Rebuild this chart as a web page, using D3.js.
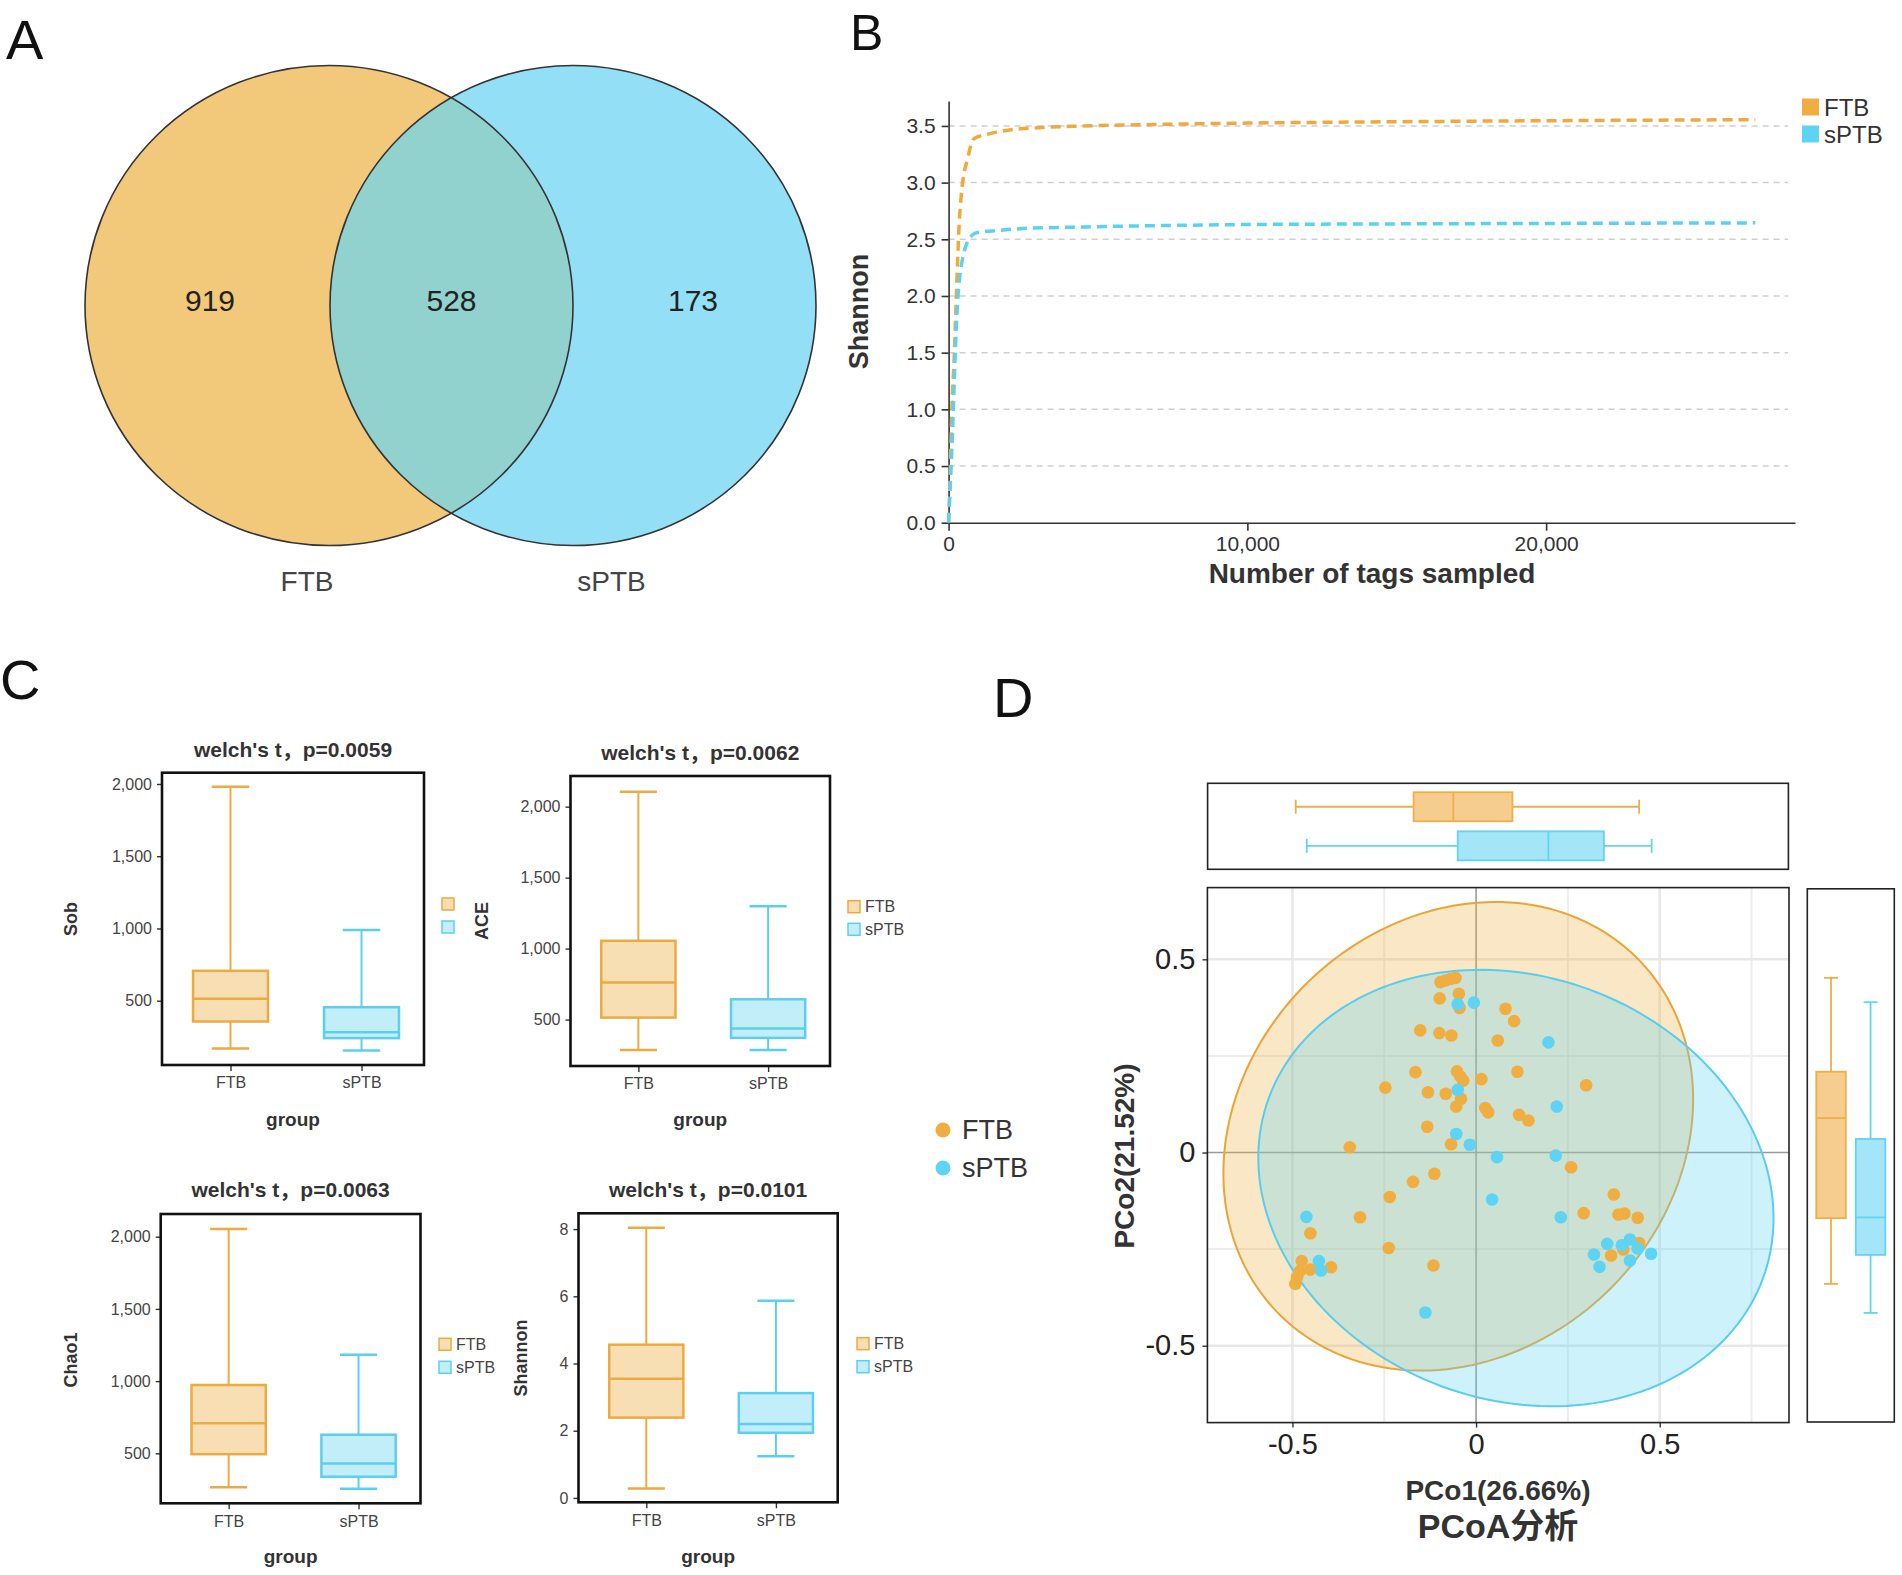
<!DOCTYPE html>
<html><head><meta charset="utf-8">
<script src="https://cdn.jsdelivr.net/npm/d3@7"></script>
<style>
body{margin:0;background:#fff}
svg{display:block}
text{font-family:"Liberation Sans",Arial,"Noto Sans CJK SC",sans-serif}
</style>
</head><body>
<svg id="c" width="1902" height="1575"></svg>
<script>
// ---------------- DATA ----------------
const groups = ["FTB", "sPTB"];
// Venn (A)
const vennRegions = ["FTB only", "shared", "sPTB only"];
const vennCounts = [919, 528, 173];
// Rarefaction (B)
const rareTagsFTB = [0, 45, 111, 190, 245, 301, 357, 424, 490, 636, 747, 859, 1360, 1918, 3033, 4148, 6378, 10000, 15000, 20000, 27000];
const rareValFTB  = [0, 0.35, 1.01, 1.48, 1.89, 2.30, 2.65, 2.89, 3.04, 3.21, 3.33, 3.39, 3.43, 3.46, 3.485, 3.497, 3.51, 3.525, 3.537, 3.546, 3.555];
const rareTagsSPTB = [0, 22, 78, 134, 190, 245, 301, 379, 468, 636, 803, 1026, 1472, 2475, 4148, 6378, 10000, 15000, 20000, 27000];
const rareValSPTB  = [0, 0.13, 0.45, 0.83, 1.24, 1.65, 1.95, 2.18, 2.33, 2.48, 2.54, 2.565, 2.574, 2.595, 2.607, 2.618, 2.630, 2.636, 2.640, 2.645];
const rareYTicks = [0, 0.5, 1, 1.5, 2, 2.5, 3, 3.5];
const rareXTicks = [0, 10000, 20000];
// Box plots (C): [min, q1, median, q3, max]
const sobFTB  = [170, 356, 513, 707, 1980];
const sobSPTB = [155, 241, 282, 455, 990];
const aceFTB  = [286, 514, 761, 1055, 2105];
const aceSPTB = [286, 371, 437, 643, 1298];
const chaoFTB  = [265, 494, 708, 973, 2053];
const chaoSPTB = [255, 338, 429, 629, 1183];
const shanFTB  = [0.28, 2.39, 3.55, 4.56, 8.04];
const shanSPTB = [1.24, 1.94, 2.20, 3.12, 5.87];
const boxTitles = ["welch's t，p=0.0059", "welch's t，p=0.0062", "welch's t，p=0.0063", "welch's t，p=0.0101"];
const boxMetrics = ["Sob", "ACE", "Chao1", "Shannon"];
const countTicks = [500, 1000, 1500, 2000];
const shanTicks = [0, 2, 4, 6, 8];
// PCoA (D)
const pcoaFTBx = [-0.097,-0.0835,-0.070,-0.056,-0.099,-0.047,-0.045,0.080,-0.152,-0.100,-0.067,0.059,-0.165,-0.052,-0.043,-0.035,0.0145,-0.247,-0.131,-0.0825,-0.041,-0.054,0.025,0.033,-0.133,-0.068,-0.344,
  0.1035,0.1125,0.2996,0.117,0.1425,
  -0.1135,-0.1716,-0.235,-0.316,-0.451,-0.238,-0.4747,-0.480,-0.4875,-0.492,-0.451,-0.395,-0.116,
  0.2587,0.375,0.293,0.3876,0.404,0.440,0.401,0.444,0.3677];
const pcoaFTBy = [0.441,0.445,0.449,0.452,0.399,0.411,0.374,0.372,0.316,0.309,0.303,0.290,0.208,0.210,0.197,0.186,0.190,0.168,0.156,0.152,0.139,0.119,0.115,0.104,0.0665,0.0215,0.0137,
  0.340,0.209,0.174,0.0975,0.083,
  -0.055,-0.076,-0.115,-0.1675,-0.209,-0.247,-0.281,-0.307,-0.323,-0.340,-0.303,-0.297,-0.2925,
  -0.038,-0.1087,-0.157,-0.1605,-0.158,-0.169,-0.251,-0.234,-0.2666];
const pcoaSPTBx = [-0.050,-0.006,-0.050,-0.054,-0.017,0.057,0.197,0.2197,0.217,0.0436,-0.462,-0.428,-0.422,-0.138,0.2306,0.419,0.357,0.397,0.440,0.321,0.4766,0.419,0.336];
const pcoaSPTBy = [0.384,0.388,0.162,0.048,0.020,-0.012,0.285,0.119,-0.008,-0.1217,-0.1665,-0.281,-0.3055,-0.414,-0.1675,-0.225,-0.2365,-0.240,-0.2485,-0.264,-0.262,-0.2796,-0.296];
// confidence ellipses: [cx, cy, semi-major, semi-minor, angle(deg)]
const ellipseFTB  = [-0.0485, 0.042, 0.673, 0.569, 35.7];
const ellipseSPTB = [0.1085, -0.092, 0.7127, 0.5505, -16.2];
// marginal box plots [min,q1,median,q3,max]
const pc1FTB  = [-0.491, -0.170, -0.062, 0.099, 0.444];
const pc1SPTB = [-0.461, -0.050, 0.197, 0.348, 0.478];
const pc2FTB  = [-0.340, -0.170, 0.089, 0.209, 0.452];
const pc2SPTB = [-0.415, -0.265, -0.168, 0.035, 0.389];
const pcoaTicks = [-0.5, 0, 0.5];
const pcoaMinorX = [-0.25, 0.25, 0.75];
const pcoaMinorY = [-0.25, 0.25];

// ---------------- STYLE ----------------
const ORANGE = "#F0AE40", BLUE = "#5ED3F4";
const svg = d3.select("#c");

// panel letters
[["A",6,59,56],["B",850,50,50],["C",0,699,56],["D",993,717,56]].forEach(([t,x,y,fs])=>{
  svg.append("text").attr("x",x).attr("y",y).attr("font-size",fs).attr("fill","#111").text(t);
});

// ---------------- A: Venn ----------------
(function(){
  const g = svg.append("g");
  const L = {cx:329, cy:305.5, rx:244, ry:240};
  const R = {cx:573, cy:305.5, rx:243, ry:240};
  const defs = svg.append("defs");
  defs.append("clipPath").attr("id","clipL").append("ellipse")
    .attr("cx",L.cx).attr("cy",L.cy).attr("rx",L.rx).attr("ry",L.ry);
  g.append("ellipse").attr("cx",L.cx).attr("cy",L.cy).attr("rx",L.rx).attr("ry",L.ry).attr("fill","#F2C87B");
  g.append("ellipse").attr("cx",R.cx).attr("cy",R.cy).attr("rx",R.rx).attr("ry",R.ry).attr("fill","#93E0F6");
  g.append("ellipse").attr("cx",R.cx).attr("cy",R.cy).attr("rx",R.rx).attr("ry",R.ry).attr("fill","#91D2CF").attr("clip-path","url(#clipL)");
  [L,R].forEach(c=>g.append("ellipse").attr("cx",c.cx).attr("cy",c.cy).attr("rx",c.rx).attr("ry",c.ry)
    .attr("fill","none").attr("stroke","#333").attr("stroke-width",1.6));
  const vx = d3.scalePoint().domain(vennRegions).range([210, 693]);
  g.selectAll("text.cnt").data(vennRegions).join("text")
    .attr("x",d=>vx(d)).attr("y",310.5).attr("text-anchor","middle")
    .attr("font-size",30).attr("fill","#222").text((d,i)=>vennCounts[i]);
  const lx = d3.scalePoint().domain(groups).range([307, 611.5]);
  g.selectAll("text.lab").data(groups).join("text")
    .attr("x",d=>lx(d)).attr("y",591).attr("text-anchor","middle")
    .attr("font-size",28).attr("fill","#444").text(d=>d);
})();

// ---------------- B: rarefaction ----------------
(function(){
  const g = svg.append("g");
  const x = d3.scaleLinear().domain([0, 28330]).range([948.6, 1795]);
  const y = d3.scaleLinear().domain([0, 3.72]).range([522.7, 101]);
  g.selectAll("line.grid").data(rareYTicks.filter(d=>d>0)).join("line")
    .attr("x1",x(0)).attr("x2",1788).attr("y1",d=>y(d)).attr("y2",d=>y(d))
    .attr("stroke","#cfcfcf").attr("stroke-width",1.5).attr("stroke-dasharray","6,5");
  const ya = g.append("g").attr("transform",`translate(${x(0)},0)`)
    .call(d3.axisLeft(y).tickValues(rareYTicks).tickFormat(d3.format(".1f")).tickSize(7).tickPadding(6).tickSizeOuter(0));
  const xa = g.append("g").attr("transform",`translate(0,${y(0)})`)
    .call(d3.axisBottom(x).tickValues(rareXTicks).tickFormat(d3.format(",")).tickSize(8).tickPadding(5).tickSizeOuter(0));
  [ya,xa].forEach(a=>{
    a.selectAll("path,line").attr("stroke","#333").attr("stroke-width",1.6);
    a.selectAll("text").attr("font-size",21).attr("fill","#333").attr("font-family","Liberation Sans, Arial, sans-serif");
  });
  const line = d3.line().x(d=>x(d[0])).y(d=>y(d[1])).curve(d3.curveMonotoneX);
  g.append("path").datum(rareTagsFTB.map((t,i)=>[t,rareValFTB[i]])).attr("d",line)
    .attr("fill","none").attr("stroke","#EFAA3A").attr("stroke-width",3.5).attr("stroke-dasharray","10,6");
  g.append("path").datum(rareTagsSPTB.map((t,i)=>[t,rareValSPTB[i]])).attr("d",line)
    .attr("fill","none").attr("stroke","#5CD2F2").attr("stroke-width",3.5).attr("stroke-dasharray","10,6");
  g.append("text").attr("transform","translate(859,311.5) rotate(-90)").attr("text-anchor","middle")
    .attr("dominant-baseline","central").attr("font-size",27).attr("font-weight","bold").attr("fill","#333").text("Shannon");
  g.append("text").attr("x",1372).attr("y",583).attr("text-anchor","middle")
    .attr("font-size",28).attr("font-weight","bold").attr("fill","#333").text("Number of tags sampled");
  const lc = [ORANGE, BLUE];
  groups.forEach((gname,i)=>{
    const cy = 107 + i*27;
    g.append("rect").attr("x",1802).attr("y",cy-8.5).attr("width",17).attr("height",17).attr("fill",lc[i]);
    g.append("text").attr("x",1824).attr("y",cy).attr("dominant-baseline","central")
      .attr("font-size",24).attr("fill","#333").text(gname);
  });
})();

// ---------------- C: box plots ----------------
const cCfg = [
  {frame:[162,772.7,424,1065], dom:[55,2078], ticks:countTicks, fmt:d3.format(","), data:[sobFTB,sobSPTB], titleY:757, yt:[71,919], leg:[442,[904,927],false], xlabY:1089, groupY:1126},
  {frame:[570.5,776,830,1066], dom:[173,2216], ticks:countTicks, fmt:d3.format(","), data:[aceFTB,aceSPTB], titleY:760, yt:[482,921], leg:[848,[906.7,929.3],true], xlabY:1089, groupY:1126},
  {frame:[160.7,1214,420.5,1503.3], dom:[154,2157], ticks:countTicks, fmt:d3.format(","), data:[chaoFTB,chaoSPTB], titleY:1197, yt:[71,1360], leg:[439,[1344.3,1367.3],true], xlabY:1527, groupY:1563},
  {frame:[578.5,1213.3,837.7,1502.3], dom:[-0.13,8.47], ticks:shanTicks, fmt:d3.format("d"), data:[shanFTB,shanSPTB], titleY:1197, yt:[521,1358], leg:[857,[1343.7,1366.7],true], xlabY:1527, groupY:1563}
];
const cStroke = ["#EDAA40", "#5CCFEE"], cFill = ["#F8DEB3", "#C2EEFA"];
cCfg.forEach((c,k)=>{
  const g = svg.append("g");
  const [x0,y0,x1,y1] = c.frame;
  const y = d3.scaleLinear().domain(c.dom).range([y1,y0]);
  const x = d3.scalePoint().domain(groups).range([x0+3,x1+3]).padding(0.5);
  const bw = (x1-x0)*0.286;
  const ya = g.append("g").attr("transform",`translate(${x0},0)`)
    .call(d3.axisLeft(y).tickValues(c.ticks).tickFormat(c.fmt).tickSize(5).tickPadding(5).tickSizeOuter(0));
  const xa = g.append("g").attr("transform",`translate(0,${y1})`)
    .call(d3.axisBottom(x).tickSize(6).tickPadding(6).tickSizeOuter(0));
  [ya,xa].forEach(a=>{
    a.select(".domain").remove();
    a.selectAll("line").attr("stroke","#333").attr("stroke-width",1.4);
    a.selectAll("text").attr("font-size",16).attr("fill","#444").attr("font-family","Liberation Sans, Arial, sans-serif");
  });
  c.data.forEach((s,i)=>{
    const cx = x(groups[i]);
    const col = cStroke[i];
    g.append("line").attr("x1",cx).attr("x2",cx).attr("y1",y(s[0])).attr("y2",y(s[1])).attr("stroke",col).attr("stroke-width",2);
    g.append("line").attr("x1",cx).attr("x2",cx).attr("y1",y(s[3])).attr("y2",y(s[4])).attr("stroke",col).attr("stroke-width",2);
    [s[0],s[4]].forEach(v=>g.append("line").attr("x1",cx-bw/4).attr("x2",cx+bw/4).attr("y1",y(v)).attr("y2",y(v)).attr("stroke",col).attr("stroke-width",2.5));
    g.append("rect").attr("x",cx-bw/2).attr("width",bw).attr("y",y(s[3])).attr("height",y(s[1])-y(s[3]))
      .attr("fill",cFill[i]).attr("stroke",col).attr("stroke-width",2.5);
    g.append("line").attr("x1",cx-bw/2).attr("x2",cx+bw/2).attr("y1",y(s[2])).attr("y2",y(s[2])).attr("stroke",col).attr("stroke-width",2.5);
  });
  g.append("rect").attr("x",x0).attr("y",y0).attr("width",x1-x0).attr("height",y1-y0)
    .attr("fill","none").attr("stroke","#111").attr("stroke-width",2.6);
  g.append("text").attr("x",(x0+x1)/2).attr("y",c.titleY).attr("text-anchor","middle")
    .attr("font-size",21).attr("font-weight","bold").attr("fill","#333").text(boxTitles[k]);
  g.append("text").attr("transform",`translate(${c.yt[0]},${c.yt[1]}) rotate(-90)`).attr("text-anchor","middle")
    .attr("dominant-baseline","central").attr("font-size",18).attr("font-weight","bold").attr("fill","#333").text(boxMetrics[k]);
  g.append("text").attr("x",(x0+x1)/2).attr("y",c.groupY).attr("text-anchor","middle")
    .attr("font-size",19).attr("font-weight","bold").attr("fill","#333").text("group");
  const [lx, lys, withText] = c.leg;
  groups.forEach((gname,i)=>{
    g.append("rect").attr("x",lx).attr("y",lys[i]-6).attr("width",12).attr("height",12)
      .attr("fill",cFill[i]).attr("stroke",cStroke[i]).attr("stroke-width",1.5);
    if (withText) g.append("text").attr("x",lx+17).attr("y",lys[i]).attr("dominant-baseline","central")
      .attr("font-size",16).attr("fill","#444").text(gname);
  });
});

// middle legend (D groups)
groups.forEach((gname,i)=>{
  const cy = 1130 + i*38;
  svg.append("circle").attr("cx",943).attr("cy",cy).attr("r",7.5).attr("fill",[ORANGE,BLUE][i]);
  svg.append("text").attr("x",962).attr("y",cy).attr("dominant-baseline","central")
    .attr("font-size",27).attr("fill","#333").text(gname);
});

// ---------------- D: PCoA ----------------
(function(){
  const g = svg.append("g");
  const X0=1207.4, X1=1789, Y0=887.6, Y1=1422.6;
  const x = d3.scaleLinear().domain([-0.7315, 0.852]).range([X0, X1]);
  const y = d3.scaleLinear().domain([-0.699, 0.6856]).range([Y1, Y0]);
  svg.select("defs").append("clipPath").attr("id","clipD").append("rect")
    .attr("x",X0).attr("y",Y0).attr("width",X1-X0).attr("height",Y1-Y0);
  const pg = g.append("g").attr("clip-path","url(#clipD)");
  // grid
  pcoaMinorX.forEach(v=>pg.append("line").attr("x1",x(v)).attr("x2",x(v)).attr("y1",Y0).attr("y2",Y1).attr("stroke","#EDEDED").attr("stroke-width",2));
  pcoaMinorY.forEach(v=>pg.append("line").attr("y1",y(v)).attr("y2",y(v)).attr("x1",X0).attr("x2",X1).attr("stroke","#EDEDED").attr("stroke-width",2));
  pcoaTicks.filter(v=>v!==0).forEach(v=>{
    pg.append("line").attr("x1",x(v)).attr("x2",x(v)).attr("y1",Y0).attr("y2",Y1).attr("stroke","#E8E8E8").attr("stroke-width",2.6);
    pg.append("line").attr("y1",y(v)).attr("y2",y(v)).attr("x1",X0).attr("x2",X1).attr("stroke","#E8E8E8").attr("stroke-width",2.6);
  });
  pg.append("line").attr("x1",x(0)).attr("x2",x(0)).attr("y1",Y0).attr("y2",Y1).attr("stroke","#9a9a9a").attr("stroke-width",1.6);
  pg.append("line").attr("y1",y(0)).attr("y2",y(0)).attr("x1",X0).attr("x2",X1).attr("stroke","#9a9a9a").attr("stroke-width",1.6);
  // ellipses
  function ellPts(e){
    const [cx,cy,a,b,ang] = e; const th = ang*Math.PI/180;
    return d3.range(0, 361, 2).map(t=>{const r=t*Math.PI/180;
      return [cx + a*Math.cos(r)*Math.cos(th) - b*Math.sin(r)*Math.sin(th),
              cy + a*Math.cos(r)*Math.sin(th) + b*Math.sin(r)*Math.cos(th)];});
  }
  const eline = d3.line().x(d=>x(d[0])).y(d=>y(d[1])).curve(d3.curveLinearClosed);
  pg.append("path").attr("d",eline(ellPts(ellipseFTB))).attr("fill",ORANGE).attr("fill-opacity",0.3)
    .attr("stroke","#EBA535").attr("stroke-width",2);
  pg.append("path").attr("d",eline(ellPts(ellipseSPTB))).attr("fill",BLUE).attr("fill-opacity",0.3)
    .attr("stroke","#58CDEE").attr("stroke-width",2);
  // points
  pg.selectAll("circle.f").data(pcoaFTBx).join("circle").attr("cx",d=>x(d)).attr("cy",(d,i)=>y(pcoaFTBy[i])).attr("r",6.3).attr("fill",ORANGE);
  pg.selectAll("circle.s").data(pcoaSPTBx).join("circle").attr("cx",d=>x(d)).attr("cy",(d,i)=>y(pcoaSPTBy[i])).attr("r",6.3).attr("fill",BLUE);
  // axes
  const fmt = d=> d===0 ? "0" : String(d);
  const xa = g.append("g").attr("transform",`translate(0,${Y1})`).call(d3.axisBottom(x).tickValues(pcoaTicks).tickFormat(fmt).tickSize(5).tickPadding(6).tickSizeOuter(0));
  const ya = g.append("g").attr("transform",`translate(${X0},0)`).call(d3.axisLeft(y).tickValues(pcoaTicks).tickFormat(fmt).tickSize(5).tickPadding(7).tickSizeOuter(0));
  [xa,ya].forEach(a=>{
    a.select(".domain").remove();
    a.selectAll("line").attr("stroke","#333").attr("stroke-width",1.4);
    a.selectAll("text").attr("font-size",29).attr("fill","#222").attr("font-family","Liberation Sans, Arial, sans-serif");
  });
  g.append("rect").attr("x",X0).attr("y",Y0).attr("width",X1-X0).attr("height",Y1-Y0).attr("fill","none").attr("stroke","#222").attr("stroke-width",1.6);
  g.append("text").attr("x",1498).attr("y",1500).attr("text-anchor","middle").attr("font-size",28).attr("font-weight","bold").attr("fill","#333").text("PCo1(26.66%)");
  g.append("text").attr("x",1498).attr("y",1538).attr("text-anchor","middle").attr("font-size",34).attr("font-weight","bold").attr("fill","#333")
    .attr("font-family","Liberation Sans, Arial, Noto Sans CJK SC, sans-serif").text("PCoA分析");
  g.append("text").attr("transform","translate(1124,1156) rotate(-90)").attr("text-anchor","middle").attr("dominant-baseline","central")
    .attr("font-size",28).attr("font-weight","bold").attr("fill","#333").text("PCo2(21.52%)");

  const mStroke = ["#EEAE48", "#62D3F1"], mFill = ["#F6CD8E", "#A4E6F8"];
  // top marginal
  const T0=783.3, T1=869.3;
  const ty = d3.scalePoint().domain(groups).range([T0,T1]).padding(0.6);
  [pc1FTB, pc1SPTB].forEach((s,i)=>{
    const cy = ty(groups[i]), h = 29, col = mStroke[i];
    g.append("line").attr("x1",x(s[0])).attr("x2",x(s[1])).attr("y1",cy).attr("y2",cy).attr("stroke",col).attr("stroke-width",1.8);
    g.append("line").attr("x1",x(s[3])).attr("x2",x(s[4])).attr("y1",cy).attr("y2",cy).attr("stroke",col).attr("stroke-width",1.8);
    [s[0],s[4]].forEach(v=>g.append("line").attr("x1",x(v)).attr("x2",x(v)).attr("y1",cy-7).attr("y2",cy+7).attr("stroke",col).attr("stroke-width",1.8));
    g.append("rect").attr("x",x(s[1])).attr("width",x(s[3])-x(s[1])).attr("y",cy-h/2).attr("height",h).attr("fill",mFill[i]).attr("stroke",col).attr("stroke-width",1.8);
    g.append("line").attr("x1",x(s[2])).attr("x2",x(s[2])).attr("y1",cy-h/2).attr("y2",cy+h/2).attr("stroke",col).attr("stroke-width",1.8);
  });
  g.append("rect").attr("x",1207.6).attr("y",T0).attr("width",1788.4-1207.6).attr("height",T1-T0).attr("fill","none").attr("stroke","#222").attr("stroke-width",1.6);
  // right marginal
  const R0=1807.3, R1=1894.3;
  const rx = d3.scalePoint().domain(groups).range([R0,R1]).padding(0.6);
  [pc2FTB, pc2SPTB].forEach((s,i)=>{
    const cx = rx(groups[i]), w = 29.5, col = mStroke[i];
    g.append("line").attr("x1",cx).attr("x2",cx).attr("y1",y(s[0])).attr("y2",y(s[1])).attr("stroke",col).attr("stroke-width",1.8);
    g.append("line").attr("x1",cx).attr("x2",cx).attr("y1",y(s[3])).attr("y2",y(s[4])).attr("stroke",col).attr("stroke-width",1.8);
    [s[0],s[4]].forEach(v=>g.append("line").attr("x1",cx-7).attr("x2",cx+7).attr("y1",y(v)).attr("y2",y(v)).attr("stroke",col).attr("stroke-width",1.8));
    g.append("rect").attr("x",cx-w/2).attr("width",w).attr("y",y(s[3])).attr("height",y(s[1])-y(s[3])).attr("fill",mFill[i]).attr("stroke",col).attr("stroke-width",1.8);
    g.append("line").attr("x1",cx-w/2).attr("x2",cx+w/2).attr("y1",y(s[2])).attr("y2",y(s[2])).attr("stroke",col).attr("stroke-width",1.8);
  });
  g.append("rect").attr("x",R0).attr("y",888.8).attr("width",R1-R0).attr("height",1422-888.8).attr("fill","none").attr("stroke","#222").attr("stroke-width",1.6);
})();
</script>
</body></html>
